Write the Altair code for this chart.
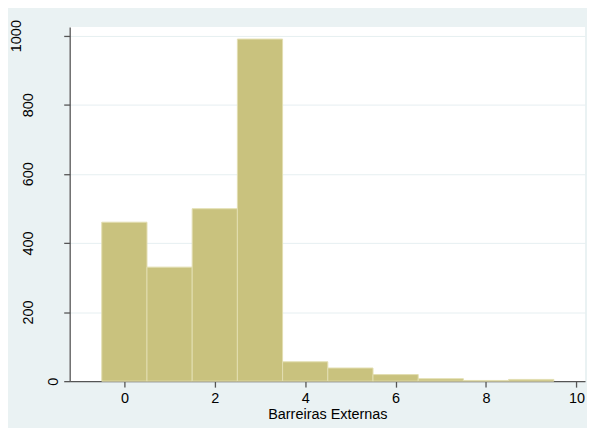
import altair as alt
import pandas as pd

bins = [0, 1, 2, 3, 4, 5, 6, 7, 8, 9]
counts = [460, 330, 499, 990, 56, 38, 19, 7, 2, 5]
x_ticks = [0, 2, 4, 6, 8, 10]
y_ticks = [0, 200, 400, 600, 800, 1000]

df = pd.DataFrame({
    "lo": [b - 0.5 for b in bins],
    "hi": [b + 0.5 for b in bins],
    "count": counts,
})

chart = alt.Chart(df).mark_rect(
    color="#C9C27E", stroke="#E2DEB0", strokeWidth=1
).encode(
    x=alt.X("lo:Q",
            scale=alt.Scale(domain=[-1.21, 10.19], nice=False, zero=False),
            axis=alt.Axis(values=x_ticks, title="Barreiras Externas", grid=False,
                          tickSize=6, labelPadding=4, titlePadding=3,
                          labelFontSize=14.5, titleFontSize=14.5,
                          titleFontWeight="normal", labelFlush=False)),
    x2="hi:Q",
    y=alt.Y("count:Q",
            scale=alt.Scale(domain=[0, 1025], nice=False),
            axis=alt.Axis(values=y_ticks, title=None, grid=True, gridColor="#E6EFF1",
                          format="d",
                          tickSize=6, labelAngle=270, labelAlign="center",
                          labelBaseline="bottom",
                          labelPadding={"condition": [
                              {"test": "datum.value == 0", "value": 3},
                              {"test": "datum.value >= 1000", "value": 40}],
                              "value": 28},
                          labelFontSize=14.5, labelFlush=False)),
    y2=alt.datum(0),
).properties(
    width=518, height=356,
    padding={"left": 62, "top": 18, "right": 2, "bottom": 46},
    autosize=alt.AutoSizeParams(type="none"),
    background="#EAF2F3",
).configure_view(
    fill="white", stroke=None
).configure_axis(
    domainColor="#555555", tickColor="#555555", labelColor="black",
    titleColor="black", labelFont="Liberation Sans", titleFont="Liberation Sans",
    domainWidth=1.3, tickWidth=1.3,
)

chart.save("out.html", embed_options={"renderer": "svg", "actions": False})
